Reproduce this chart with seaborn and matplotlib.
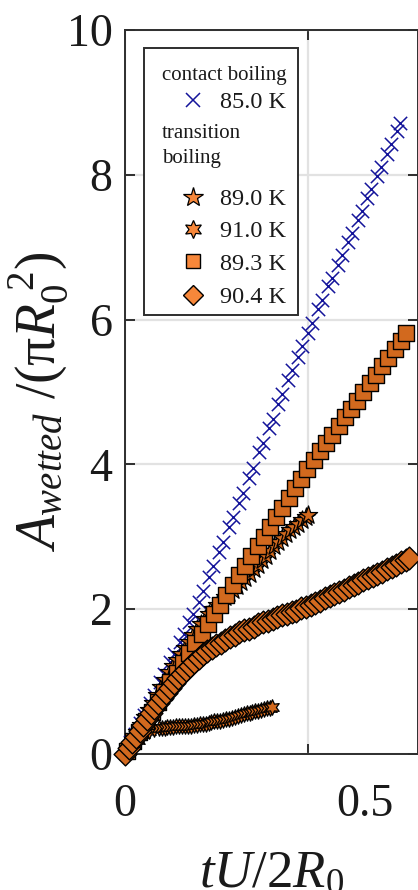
import matplotlib
matplotlib.use("Agg")
import matplotlib.pyplot as plt
import pandas as pd
import seaborn as sns
from matplotlib.lines import Line2D
from matplotlib.patches import Rectangle
from matplotlib.transforms import ScaledTranslation

# ---- data: dimensionless time tU/2R0 and wetted area A/(pi R0^2) ----
t_850 = [0.015, 0.026, 0.041, 0.052, 0.068, 0.079, 0.095, 0.106, 0.122, 0.133,
         0.149, 0.160, 0.176, 0.187, 0.203, 0.214, 0.230, 0.241, 0.257, 0.268,
         0.284, 0.295, 0.311, 0.322, 0.338, 0.349, 0.365, 0.376, 0.392, 0.403,
         0.419, 0.430, 0.446, 0.457, 0.473, 0.484, 0.500, 0.511, 0.527, 0.538,
         0.554, 0.565, 0.581, 0.592, 0.608, 0.619, 0.635, 0.646, 0.662, 0.673,
         0.689, 0.700, 0.716, 0.727, 0.743, 0.752]
a_850 = [0.16, 0.27, 0.43, 0.54, 0.71, 0.82, 0.99, 1.10, 1.27, 1.38,
         1.55, 1.66, 1.83, 1.94, 2.10, 2.25, 2.45, 2.59, 2.79, 2.93,
         3.13, 3.27, 3.47, 3.61, 3.81, 3.95, 4.17, 4.30, 4.50, 4.63,
         4.83, 4.97, 5.16, 5.30, 5.49, 5.63, 5.82, 5.95, 6.15, 6.27,
         6.46, 6.58, 6.76, 6.89, 7.07, 7.19, 7.37, 7.50, 7.68, 7.80,
         7.98, 8.11, 8.29, 8.42, 8.61, 8.71]

t_890 = [0.010, 0.021, 0.032, 0.043, 0.054, 0.065, 0.076, 0.087, 0.098, 0.109,
         0.120, 0.131, 0.142, 0.153, 0.164, 0.175, 0.186, 0.197, 0.208, 0.219,
         0.230, 0.241, 0.252, 0.263, 0.274, 0.285, 0.296, 0.307, 0.318, 0.329,
         0.340, 0.351, 0.362, 0.373, 0.384, 0.395, 0.406, 0.417, 0.428, 0.439,
         0.450, 0.461, 0.472, 0.483, 0.494, 0.501]
a_890 = [0.09, 0.20, 0.30, 0.40, 0.51, 0.61, 0.71, 0.82, 0.92, 1.02,
         1.13, 1.21, 1.30, 1.38, 1.47, 1.55, 1.64, 1.73, 1.80, 1.86,
         1.93, 2.00, 2.06, 2.11, 2.17, 2.22, 2.27, 2.32, 2.38, 2.43,
         2.49, 2.55, 2.61, 2.68, 2.74, 2.80, 2.87, 2.93, 2.99, 3.04,
         3.09, 3.13, 3.18, 3.23, 3.27, 3.30]

t_910 = [0.020, 0.035, 0.050, 0.065, 0.080, 0.092, 0.100, 0.108, 0.116, 0.124,
         0.132, 0.140, 0.148, 0.156, 0.164, 0.172, 0.180, 0.188, 0.196, 0.204,
         0.212, 0.220, 0.228, 0.236, 0.244, 0.252, 0.260, 0.268, 0.276, 0.284,
         0.292, 0.300, 0.308, 0.316, 0.324, 0.332, 0.340, 0.348, 0.356, 0.364,
         0.372, 0.380, 0.388, 0.396, 0.402]
a_910 = [0.12, 0.20, 0.27, 0.32, 0.35, 0.36, 0.36, 0.36, 0.37, 0.37,
         0.37, 0.38, 0.38, 0.38, 0.39, 0.39, 0.39, 0.40, 0.40, 0.41,
         0.41, 0.42, 0.43, 0.44, 0.45, 0.46, 0.46, 0.47, 0.48, 0.49,
         0.50, 0.51, 0.53, 0.54, 0.55, 0.56, 0.57, 0.58, 0.59, 0.60,
         0.61, 0.62, 0.63, 0.64, 0.65]

t_893 = [0.005, 0.022, 0.039, 0.056, 0.073, 0.090, 0.107, 0.124, 0.141, 0.158,
         0.175, 0.192, 0.209, 0.226, 0.243, 0.260, 0.277, 0.294, 0.311, 0.328,
         0.345, 0.362, 0.379, 0.396, 0.413, 0.430, 0.447, 0.464, 0.481, 0.498,
         0.515, 0.532, 0.549, 0.566, 0.583, 0.600, 0.617, 0.634, 0.651, 0.668,
         0.685, 0.702, 0.719, 0.736, 0.753, 0.768]
a_893 = [0.04, 0.18, 0.31, 0.45, 0.58, 0.72, 0.85, 0.99, 1.12, 1.26,
         1.39, 1.53, 1.66, 1.80, 1.93, 2.06, 2.20, 2.33, 2.47, 2.60,
         2.73, 2.87, 3.00, 3.13, 3.27, 3.40, 3.53, 3.67, 3.80, 3.93,
         4.06, 4.18, 4.30, 4.41, 4.53, 4.65, 4.77, 4.88, 5.00, 5.12,
         5.24, 5.36, 5.47, 5.59, 5.71, 5.81]

t_904 = [0.000, 0.010, 0.020, 0.030, 0.040, 0.050, 0.060, 0.070, 0.080, 0.090,
         0.100, 0.111, 0.122, 0.133, 0.144, 0.155, 0.166, 0.177, 0.189, 0.201,
         0.213, 0.225, 0.237, 0.249, 0.261, 0.273, 0.286, 0.299, 0.312, 0.325,
         0.338, 0.351, 0.364, 0.377, 0.390, 0.403, 0.416, 0.429, 0.442, 0.455,
         0.468, 0.481, 0.494, 0.507, 0.520, 0.533, 0.546, 0.559, 0.572, 0.585,
         0.598, 0.611, 0.624, 0.637, 0.650, 0.663, 0.676, 0.689, 0.702, 0.715,
         0.728, 0.741, 0.754, 0.766, 0.775]
a_904 = [0.00, 0.08, 0.16, 0.24, 0.32, 0.40, 0.48, 0.56, 0.63, 0.70,
         0.77, 0.84, 0.91, 0.98, 1.05, 1.11, 1.16, 1.21, 1.27, 1.33,
         1.38, 1.42, 1.46, 1.50, 1.54, 1.58, 1.62, 1.65, 1.68, 1.71,
         1.73, 1.76, 1.79, 1.82, 1.84, 1.87, 1.89, 1.92, 1.94, 1.96,
         1.98, 2.01, 2.03, 2.06, 2.09, 2.12, 2.15, 2.18, 2.21, 2.24,
         2.27, 2.30, 2.33, 2.36, 2.40, 2.43, 2.46, 2.49, 2.52, 2.55,
         2.58, 2.61, 2.65, 2.68, 2.71]

labels_contact = ["85.0 K"]
labels_transition = ["89.0 K", "91.0 K", "89.3 K", "90.4 K"]
x_ticks = [0, 0.5]
x_tick_labels = ["0", "0.5"]
y_ticks = [0, 2, 4, 6, 8, 10]

# ---- style ----
sns.set_theme(style="white")
plt.rcParams["font.family"] = ["Liberation Serif", "DejaVu Serif"]
plt.rcParams["mathtext.fontset"] = "custom"
plt.rcParams["mathtext.rm"] = "Liberation Serif"
plt.rcParams["mathtext.it"] = "Liberation Serif:italic"
plt.rcParams["mathtext.bf"] = "Liberation Serif:bold"

navy = "#14149a"
orange = "#d2691e"
orange_key = "#f7873a"
spine_col = "#2e2e2e"
text_col = "#1a1a1a"

W, H = 418, 890
fig = plt.figure(figsize=(W / 100, H / 100), dpi=100)
ax = fig.add_axes([125 / W, 136 / H, 293 / W, 724 / H])
ax_w, ax_h = 293.0, 724.0          # axes size in pixels


def ax_x(px):
    return (px - 125) / ax_w


def ax_y(py):
    return (754 - py) / ax_h


star6 = (6, 1, 0)

series = [
    (t_850, a_850, "x", 92, navy, None, 1.1),
    (t_890, a_890, "*", 190, orange, "black", 0.9),
    (t_910, a_910, star6, 125, orange, "black", 0.9),
    (t_893, a_893, "s", 140, orange, "black", 1.0),
    (t_904, a_904, "D", 135, orange, "black", 1.0),
]
for z, (tx, ay, mk, size, fc, ec, lw) in enumerate(series):
    df = pd.DataFrame({"t": tx, "a": ay})
    kws = dict(marker=mk, s=size, color=fc, linewidth=lw,
               clip_on=False, zorder=3 + z, legend=False)
    if ec is not None:
        kws["edgecolor"] = ec
    sns.scatterplot(data=df, x="t", y="a", ax=ax, **kws)

ax.set_xlim(0, 0.8)
ax.set_ylim(0, 10)
ax.set_xticks(x_ticks)
ax.set_xticklabels(x_tick_labels)
ax.set_yticks(y_ticks)

ax.grid(True, color="#e2e2e2", linewidth=1.6)
ax.set_axisbelow(True)
for sp in ax.spines.values():
    sp.set_color(spine_col)
    sp.set_linewidth(1.4)
    sp.set_visible(True)

ax.tick_params(axis="both", direction="in", length=7, width=1.4,
               color=spine_col, labelcolor=text_col, labelsize=33,
               top=True, right=True, left=True, bottom=True)
ax.tick_params(axis="y", pad=9)
ax.tick_params(axis="x", pad=21)

# the 0.5 label sits to the right of its grid line
lab05 = ax.xaxis.get_major_ticks()[1].label1
lab05.set_transform(lab05.get_transform() +
                    ScaledTranslation(0.57, 0, fig.dpi_scale_trans))

ax.set_xlabel(r"$tU/2R_0$", fontsize=38, color=text_col)
ax.xaxis.set_label_coords(0.5, ax_y(850))
ax.set_ylabel(r"$A_{wetted}\ /(\mathrm{\pi} R_0^{\ 2})$", fontsize=40,
              color=text_col)
ax.yaxis.set_label_coords(ax_x(70), ax_y(402))

# ---- legend: boxed panel with two group headings ----
ax.add_patch(Rectangle((ax_x(144), ax_y(315)), 154 / ax_w, 267 / ax_h,
                       transform=ax.transAxes, facecolor="white",
                       edgecolor=spine_col, linewidth=1.4, zorder=19,
                       clip_on=False))

handles = [
    Line2D([], [], ls="", marker=None),
    Line2D([], [], ls="", marker="x", ms=9.5, mec=navy, mew=1.1),
    Line2D([], [], ls="", marker=None),
    Line2D([], [], ls="", marker="*", ms=15, mfc=orange_key, mec="black", mew=0.9),
    Line2D([], [], ls="", marker=star6, ms=13, mfc=orange_key, mec="black", mew=0.9),
    Line2D([], [], ls="", marker="s", ms=10, mfc=orange_key, mec="black", mew=1.0),
    Line2D([], [], ls="", marker="D", ms=10.5, mfc=orange_key, mec="black", mew=1.0),
]
texts = ["contact boiling"] + labels_contact + ["transition\nboiling"] + labels_transition
leg = ax.legend(handles, texts, loc="upper left",
                bbox_to_anchor=(ax_x(173.6), ax_y(62.6)), borderaxespad=0,
                fontsize=17.5, frameon=False, borderpad=0, labelspacing=0.44,
                handlelength=1.6, handletextpad=0.31, numpoints=1)
leg.set_zorder(20)

leg_texts = leg.get_texts()
leg_keys = leg.legend_handles
for i in (0, 2):
    leg_texts[i].set_fontsize(15)
leg_texts[2].set_linespacing(1.4)
for t in leg_texts:
    t.set_color(text_col)

# per-row nudges (dx, dy in pixels, +dy is downward)
row_shift = {0: (-58, 0), 1: (0, -4), 2: (-58, -4), 3: (0, 6),
             4: (0, 5), 5: (0, 5), 6: (0, 6)}
for i, (dx, dy) in row_shift.items():
    off = ScaledTranslation(dx / 100, -dy / 100, fig.dpi_scale_trans)
    leg_texts[i].set_transform(leg_texts[i].get_transform() + off)
    if dx == 0:
        leg_keys[i].set_transform(leg_keys[i].get_transform() + off)

fig.savefig("out.png", dpi=100)
